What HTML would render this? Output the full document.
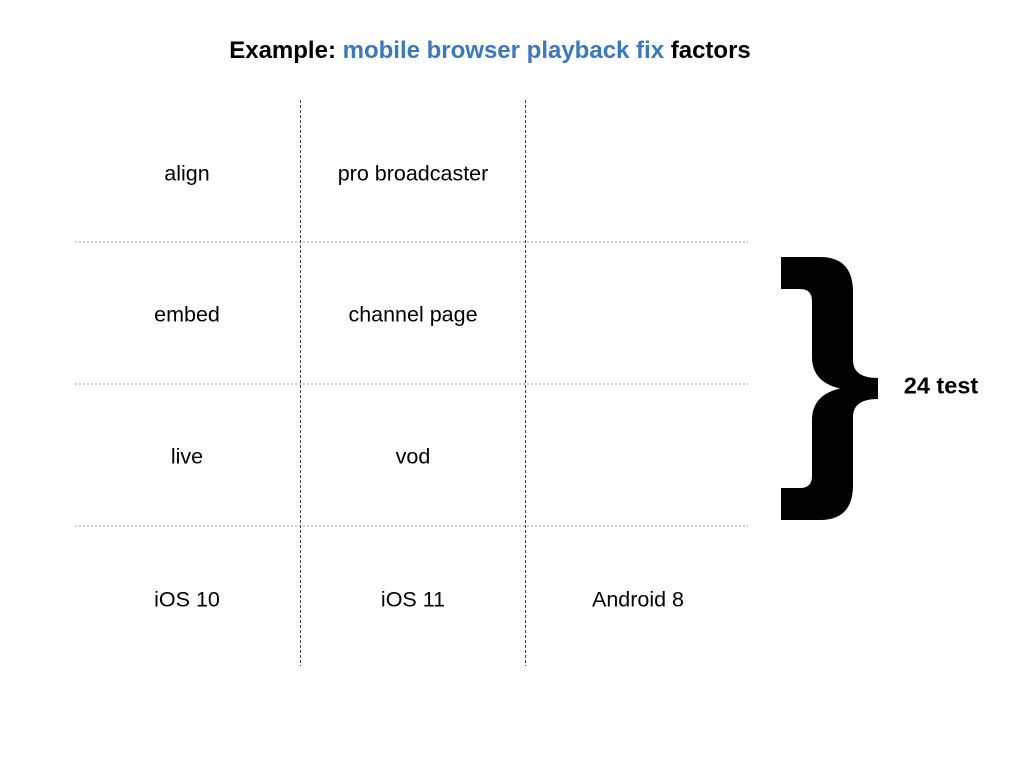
<!DOCTYPE html>
<html><head><meta charset="utf-8"><style>
body{margin:0;width:1024px;height:768px;background:#fff;position:relative;font-family:"Liberation Sans",sans-serif;overflow:hidden}
.t{position:absolute;font-size:21.5px;color:#000;transform:translate(-50%,-50%);white-space:nowrap}
</style></head><body>
<svg width="1024" height="768" style="position:absolute;left:0;top:0">
<g stroke="#bbb" stroke-width="1.5" stroke-dasharray="2,2">
<line x1="75" y1="242" x2="748" y2="242"/>
<line x1="75" y1="384" x2="748" y2="384"/>
<line x1="75" y1="526" x2="748" y2="526"/>
</g>
<g stroke="#444" stroke-width="1" stroke-dasharray="3,2">
<line x1="300.5" y1="100" x2="300.5" y2="666"/>
<line x1="525.5" y1="100" x2="525.5" y2="666"/>
</g>
<path d="M781,257 L820,257 Q853,257 853,292 L853,360 Q853,378 878,378 L878,399 Q853,399 853,417 L853,485 Q853,520 820,520 L781,520 L781,488 L800,488 Q812,488 812,476 L812,420 Q812,395 840,388.5 Q812,382 812,357 L812,301 Q812,289 800,289 L781,289 Z" fill="#000"/>
</svg>
<div class="t" style="left:490px;top:51px;font-weight:bold;font-size:24px">Example: <span style="color:#3a78bf">mobile browser playback fix</span> factors</div>
<div class="t" style="left:187px;top:174px">align</div>
<div class="t" style="left:413px;top:174px">pro broadcaster</div>
<div class="t" style="left:187px;top:315px">embed</div>
<div class="t" style="left:413px;top:315px">channel page</div>
<div class="t" style="left:187px;top:457px">live</div>
<div class="t" style="left:413px;top:457px">vod</div>
<div class="t" style="left:187px;top:600px">iOS 10</div>
<div class="t" style="left:413px;top:600px">iOS 11</div>
<div class="t" style="left:638px;top:600px">Android 8</div>
<div class="t" style="left:941px;top:386px;font-weight:bold;font-size:23.5px">24 test</div>
</body></html>
